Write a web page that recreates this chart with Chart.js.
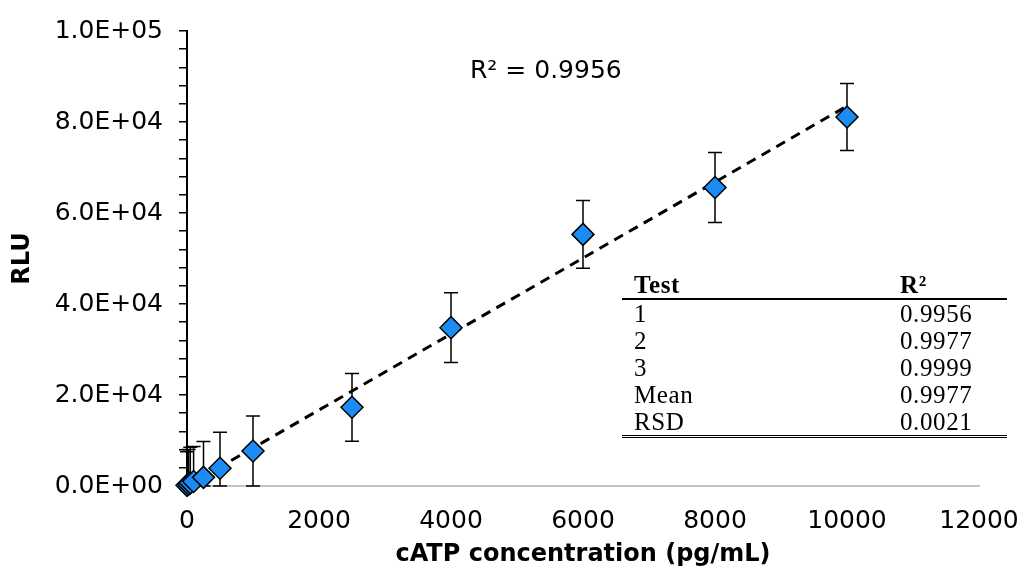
<!DOCTYPE html>
<html>
<head>
<meta charset="utf-8">
<script src="https://cdn.jsdelivr.net/npm/chart.js@4/dist/chart.umd.min.js"></script>
<style>
html,body{margin:0;padding:0;background:#fff;}
#wrap{position:relative;width:1026px;height:576px;}
#r2{position:absolute;left:470px;top:55px;font-family:"DejaVu Sans";font-size:25px;line-height:30px;color:#000;white-space:nowrap;}
#tbl{position:absolute;left:622px;top:271px;width:385px;font-family:"Liberation Serif";font-size:25px;letter-spacing:0.6px;color:#000;}
#tbl .row{position:relative;height:27px;line-height:27px;}
#tbl .hdr{font-weight:bold;border-bottom:2px solid #000;}
#tbl .last{border-bottom:3px double #000;}
#tbl .c1{position:absolute;left:12px;top:0;}
#tbl .c2{position:absolute;left:278px;top:0;}
</style>
</head>
<body>
<div id="wrap">
  <canvas id="c" width="1026" height="576"></canvas>
  <div id="r2">R² = 0.9956</div>
  <div id="tbl"></div>
</div>
<script>
// ---- data ----
const concX   = [0, 25, 50, 100, 250, 500, 1000, 2500, 4000, 6000, 8000, 10000];
const rluY    = [150, 400, 700, 1000, 1900, 3900, 7700, 17300, 34800, 55300, 65600, 81100];
const rluErr  = [7400, 7600, 7800, 7700, 7900, 7900, 7700, 7450, 7650, 7450, 7700, 7350];
const trendX  = [0, 10000];
const trendY  = [0, 83500];
const xTicks  = [0, 2000, 4000, 6000, 8000, 10000, 12000];
const yMajor  = [0, 20000, 40000, 60000, 80000, 100000];
const tblHead = ['Test', 'R²'];
const tblTest = ['1', '2', '3', 'Mean', 'RSD'];
const tblR2   = ['0.9956', '0.9977', '0.9999', '0.9977', '0.0021'];

// ---- table ----
(function(){
  const t = document.getElementById('tbl');
  const mk = (a, b, cls) => {
    const r = document.createElement('div');
    r.className = 'row ' + cls;
    const s1 = document.createElement('span'); s1.className = 'c1'; s1.textContent = a;
    const s2 = document.createElement('span'); s2.className = 'c2'; s2.textContent = b;
    r.appendChild(s1); r.appendChild(s2); t.appendChild(r);
  };
  mk(tblHead[0], tblHead[1], 'hdr');
  tblTest.forEach((v, i) => mk(v, tblR2[i], i === tblTest.length - 1 ? 'last' : ''));
})();

function sci(v){
  if (v === 0) return '0.0E+00';
  const e = Math.floor(Math.log10(Math.abs(v)) + 1e-9);
  const m = v / Math.pow(10, e);
  return m.toFixed(1) + 'E+' + String(e).padStart(2, '0');
}

const errorBars = {
  id: 'errorBars',
  beforeDatasetsDraw(chart){
    const {ctx, scales:{x, y}} = chart;
    ctx.save();
    ctx.strokeStyle = '#000';
    ctx.lineWidth = 1.5;
    const cap = 7;
    concX.forEach((xv, i) => {
      const px = x.getPixelForValue(xv);
      const pt = y.getPixelForValue(rluY[i] + rluErr[i]);
      const pb = y.getPixelForValue(Math.max(rluY[i] - rluErr[i], 0));
      ctx.beginPath();
      ctx.moveTo(px, pt); ctx.lineTo(px, pb);
      ctx.moveTo(px - cap, pt); ctx.lineTo(px + cap, pt);
      ctx.moveTo(px - cap, pb); ctx.lineTo(px + cap, pb);
      ctx.stroke();
    });
    ctx.restore();
  }
};

const tickFont = {family: 'DejaVu Sans', size: 25};
const titleFont = {family: 'DejaVu Sans', size: 24, weight: 'bold'};

new Chart(document.getElementById('c'), {
  type: 'scatter',
  data: {
    datasets: [
      {
        type: 'line',
        data: trendX.map((v, i) => ({x: v, y: trendY[i]})),
        borderColor: '#000',
        borderWidth: 3,
        borderDash: [10, 7],
        pointRadius: 0,
        fill: false,
        order: 2
      },
      {
        data: concX.map((v, i) => ({x: v, y: rluY[i]})),
        pointStyle: 'rectRot',
        pointRadius: 11,
        pointHoverRadius: 11,
        backgroundColor: '#1c8cf5',
        borderColor: '#000',
        borderWidth: 1.5,
        clip: false,
        order: 1
      }
    ]
  },
  options: {
    responsive: false,
    animation: false,
    events: [],
    layout: {padding: {top: 30, right: 47, left: 0, bottom: 0}},
    plugins: {legend: {display: false}, tooltip: {enabled: false}},
    scales: {
      x: {
        type: 'linear',
        min: 0, max: 12000,
        afterBuildTicks: s => { s.ticks = xTicks.map(v => ({value: v})); },
        afterFit: s => { s.height = 90; s.paddingRight = 0; s.paddingLeft = 0; },
        grid: {drawOnChartArea: false, drawTicks: false},
        border: {color: '#c4c4c4', width: 2},
        ticks: {font: tickFont, color: '#000', padding: 20, maxRotation: 0, autoSkip: false,
                callback: v => String(v)},
        title: {display: true, text: 'cATP concentration (pg/mL)', font: titleFont, color: '#000', padding: {top: 0, bottom: 7}}
      },
      y: {
        min: 0, max: 100000,
        ticks: {
          stepSize: 4000,
          autoSkip: false,
          font: tickFont, color: '#000', padding: 16,
          callback: v => yMajor.includes(v) ? sci(v) : ''
        },
        afterFit: s => { s.width = 187; },
        grid: {drawOnChartArea: false, drawTicks: true, tickLength: 8, color: '#000', lineWidth: 1.5},
        border: {color: '#000', width: 2},
        title: {display: true, text: 'RLU', font: titleFont, color: '#000', padding: {top: 8, bottom: 0}}
      }
    }
  },
  plugins: [errorBars]
});
</script>
</body>
</html>
